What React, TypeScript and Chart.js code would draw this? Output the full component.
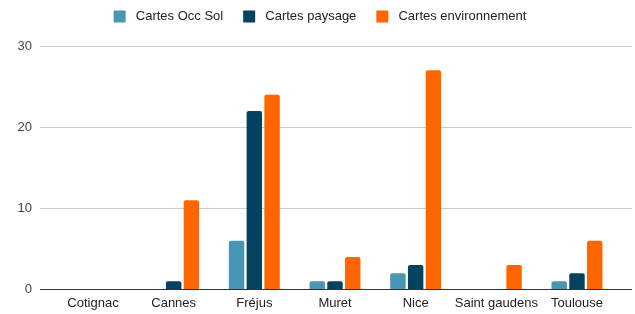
import React, { useEffect, useRef } from "react";
import { Chart, registerables } from "chart.js";

Chart.register(...registerables);

const categories = ["Cotignac", "Cannes", "Fréjus", "Muret", "Nice", "Saint gaudens", "Toulouse"];
const seriesNames = ["Cartes Occ Sol", "Cartes paysage", "Cartes environnement"];
const occSol = [0, 0, 6, 1, 2, 0, 1];
const paysage = [0, 1, 22, 1, 3, 0, 2];
const environnement = [0, 11, 24, 4, 27, 3, 6];
const seriesColors = ["#4895b4", "#05425f", "#ff6600"];
const yMin = 0;
const yMax = 30;
const yStep = 10;

const FONT = "'Liberation Sans', Arial, Helvetica, sans-serif";

const legendSpacer = {
  id: "legendSpacer",
  beforeLayout(chart: any) {
    const lg = chart.legend;
    if (lg && !lg._spacerWrapped) {
      const f = lg.fit;
      lg.fit = function () {
        f.call(this);
        this.height += 13;
      };
      lg._spacerWrapped = true;
    }
  },
};

export default function App() {
  const ref = useRef<HTMLCanvasElement | null>(null);

  useEffect(() => {
    if (!ref.current) return;
    const series = [occSol, paysage, environnement];
    const chart = new Chart(ref.current, {
      type: "bar",
      data: {
        datasets: series.map((vals, i) => ({
          label: " " + seriesNames[i],
          data: vals.map((v, j) => ({ x: j, y: v })),
          backgroundColor: seriesColors[i],
          borderWidth: 0,
          borderRadius: 2,
          categoryPercentage: 0.66,
          barPercentage: 0.87,
        })),
      },
      options: {
        animation: false,
        responsive: false,
        maintainAspectRatio: false,
        layout: { padding: { top: -10, left: 8, right: 3, bottom: -3 } },
        plugins: {
          legend: {
            position: "top",
            align: "center",
            labels: {
              boxWidth: 12,
              boxHeight: 12,
              padding: 20,
              color: "#222222",
              font: { family: FONT, size: 13 },
            },
          },
          tooltip: { enabled: false },
        },
        scales: {
          x: {
            type: "linear",
            min: -0.657,
            max: 6.682,
            offset: false,
            grid: { display: false, drawTicks: false, offset: false },
            border: { display: false },
            ticks: {
              stepSize: 1,
              includeBounds: false,
              autoSkip: false,
              maxRotation: 0,
              padding: 6,
              color: "#222222",
              font: { family: FONT, size: 13 },
              callback: (v: any) => {
                const n = Number(v);
                return Number.isInteger(n) && categories[n] !== undefined ? categories[n] : "";
              },
            },
          },
          y: {
            min: yMin,
            max: yMax,
            grid: {
              drawTicks: false,
              color: (ctx: any) => (ctx.tick && ctx.tick.value === 0 ? "#333333" : "#cccccc"),
              lineWidth: 1,
            },
            border: { display: false },
            afterFit: (scale: any) => {
              scale.width = 32;
            },
            ticks: {
              stepSize: yStep,
              padding: 8,
              color: "#444444",
              font: { family: FONT, size: 13 },
            },
          },
        },
      },
      plugins: [legendSpacer],
    } as any);
    return () => chart.destroy();
  }, []);

  return (
    <div style={{ position: "fixed", left: 0, top: 0, width: 635, height: 314, background: "#ffffff" }}>
      <canvas ref={ref} width={635} height={314} style={{ width: 635, height: 314, display: "block" }} />
    </div>
  );
}
